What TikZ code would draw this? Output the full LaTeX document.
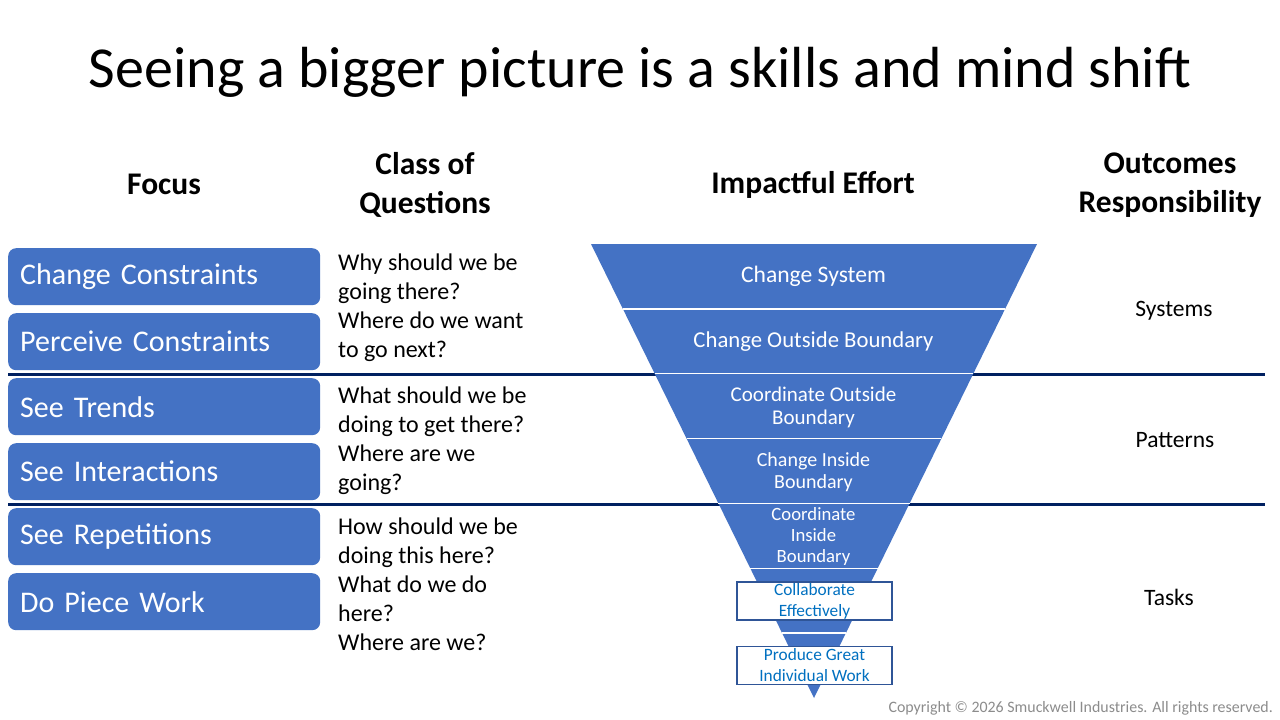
\documentclass[tikz,border=0pt]{standalone}
\usepackage{fontspec}
\setmainfont{Carlito}
\usetikzlibrary{calc}
\definecolor{boxblue}{HTML}{4472C4}
\definecolor{navy}{HTML}{002060}
\definecolor{outl}{HTML}{2F5597}
\definecolor{txtblue}{HTML}{0070C0}
\definecolor{cgray}{HTML}{8C8C8C}
\newcommand{\fsz}[2]{\fontsize{#1}{#2}\selectfont}
\begin{document}
\begin{tikzpicture}[x=1pt,y=-1pt,
  focusbox/.style={rectangle, rounded corners=8pt, fill=boxblue, draw=none,
    minimum width=312pt, minimum height=57pt, text width=288pt, inner xsep=12pt,
    inner ysep=0pt, align=left, text=white, font=\fsz{30}{36}, anchor=north west},
  header/.style={font=\bfseries\fsz{31.5}{39}, align=center, inner sep=0pt},
  question/.style={font=\fsz{24}{29}, align=left, anchor=west, inner sep=0pt},
  outcome/.style={font=\fsz{23.5}{28}, inner sep=0pt},
  funtext/.style={text=white, align=center, inner sep=0pt},
  outlinebox/.style={rectangle, draw=outl, line width=1.2pt, fill=white,
    minimum width=155pt, minimum height=38pt, inner sep=0pt, text=txtblue,
    align=center, font=\fsz{17.3}{21}},
  divider/.style={navy, line width=3pt},
  bandline/.style={white, line width=1.5pt}]
\useasboundingbox (0,0) rectangle (1280,720);
\fill[white] (0,0) rectangle (1280,720);

% title
\node[font=\fsz{58}{66}, inner sep=0pt] (title) at (640,72.5) {Seeing a bigger picture is a skills and mind shift};

% headers
\node[header] (hfocus) at (164,184) {Focus};
\node[header] (hclass) at (425,185) {Class of\\Questions};
\node[header] (himpact) at (813,184.5) {Impactful Effort};
\node[header] (hout) at (1170,185) {Outcomes\\Responsibility};

% dividers
\coordinate (d1l) at (8,374);
\coordinate (d1r) at (1265,374);
\coordinate (d2l) at (8,504);
\coordinate (d2r) at (1265,504);
\draw[divider] (d1l) -- (d1r);
\draw[divider] (d2l) -- (d2r);

% focus boxes
\node[focusbox] (f1) at (8,248) {Change Constraints};
\node[focusbox] (f2) at (8,313) {Perceive Constraints};
\node[focusbox] (f3) at (8,378) {See Trends};
\node[focusbox] (f4) at (8,443) {See Interactions};
\node[focusbox] (f5) at (8,508) {See Repetitions};
\node[focusbox] (f6) at (8,573) {Do Piece Work};

% questions
\node[question] (q1) at (338,308) {Why should we be\\going there?\\Where do we want\\to go next?};
\node[question] (q2) at (338,440.5) {What should we be\\doing to get there?\\Where are we\\going?};
\node[question] (q3) at (338,584) {How should we be\\doing this here?\\What do we do\\here?\\Where are we?};

% funnel
\coordinate (TL) at (591,244);
\coordinate (TR) at (1037,244);
\coordinate (A) at (814,698);
\fill[boxblue] (TL) -- (TR) -- (A) -- cycle;
\foreach \k in {1,...,6}{
  \draw[bandline] ($(TL)!\k/7!(A)$) -- ($(TR)!\k/7!(A)$);
}
\node[funtext, font=\fsz{23.6}{28}] (e1) at (813.5,276.5) {Change System};
\node[funtext, font=\fsz{22.7}{27}] (e2) at (813.5,341.5) {Change Outside Boundary};
\node[funtext, font=\fsz{21}{23}] (e3) at (813.5,407) {Coordinate Outside\\Boundary};
\node[funtext, font=\fsz{20}{22}] (e4) at (813.5,472) {Change Inside\\Boundary};
\node[funtext, font=\fsz{18.7}{21}] (e5) at (813.5,537) {Coordinate\\Inside\\Boundary};
\node[outlinebox] (e6) at (814.5,601) {Collaborate\\Effectively};
\node[outlinebox] (e7) at (814.5,665.5) {Produce Great\\Individual Work};

% outcomes
\node[outcome] (o1) at (1174,310.5) {Systems};
\node[outcome] (o2) at (1175,440) {Patterns};
\node[outcome] (o3) at (1169,597.5) {Tasks};

% copyright
\node[font=\fsz{15.9}{18}, text=cgray, anchor=east, inner sep=0pt] (copy) at (1273,708) {Copyright © 2026 Smuckwell Industries. All rights reserved.};
\end{tikzpicture}
\end{document}
